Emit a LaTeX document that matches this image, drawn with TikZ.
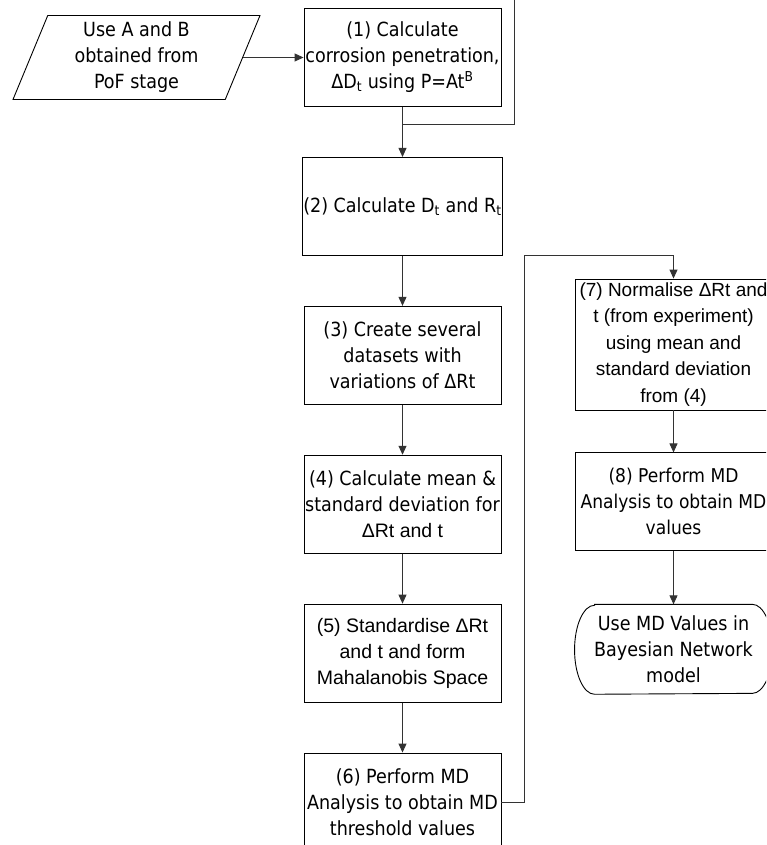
\documentclass[tikz,border=0pt]{standalone}
\usepackage{fontspec}
\setmainfont{DejaVu Sans Condensed}
\newfontfamily\arialfont{Liberation Sans}
\usetikzlibrary{arrows.meta,positioning,shapes.geometric}
\tikzset{>=Stealth}

\begin{document}
\begin{tikzpicture}[
    x=1pt, y=-1pt,
    process/.style={draw, line width=0.9pt, minimum width=197pt, minimum height=98pt, align=center, inner sep=1pt, font=\fontsize{19.5}{26}\selectfont},
    inputbox/.style={process, trapezium, trapezium left angle=64.5, trapezium right angle=115.5, trapezium stretches body, minimum width=247pt, minimum height=84pt},
    terminal/.style={process, draw=none, minimum height=89pt},
    wire/.style={line width=0.9pt, draw=black!80},
    link/.style={wire, -{Triangle[length=9pt,width=8pt]}},
    node distance=50pt
  ]
    \useasboundingbox (0,0) rectangle (766,845);
    \clip (0,0) rectangle (766,845);
    % left column
    \node[process] (calcpen) at (402.5,57.5) {(1) Calculate\\corrosion penetration,\\ΔD\textsubscript{t} using P=At\textsuperscript{B}};
    \node[inputbox] (pof) at (136.5,57.5) {Use A and B\\obtained from\\PoF stage};
    \node[process, below=of calcpen] (calcdr) {(2) Calculate D\textsubscript{t} and R\textsubscript{t}};
    \node[process, below=of calcdr] (datasets) {(3) Create several\\datasets with\\variations of ΔRt};
    \node[process, below=of datasets] (meanstd) {(4) Calculate mean \&\\standard deviation for\\{\arialfont ΔRt and t}};
    \node[process, below=of meanstd, font=\arialfont\fontsize{19.5}{26}\selectfont] (standard) {(5) Standardise ΔRt\\and t and form\\Mahalanobis Space};
    \node[process, below=of standard] (mdthresh) {(6) Perform MD\\Analysis to obtain MD\\threshold values};
    % right column
    \node[process, minimum height=131pt, font=\arialfont\fontsize{19}{26.5}\selectfont] (normalise) at (673.5,344.5) {(7) Normalise ΔRt and\\t (from experiment)\\using mean and\\standard deviation\\from (4)};
    \node[process, below=42pt of normalise, font=\fontsize{19}{26}\selectfont] (mdvalues) {(8) Perform MD\\Analysis to obtain MD\\values};
    \node[terminal, below=53pt of mdvalues] (bayes) {Use MD Values in\\Bayesian Network\\model};
    \draw[line width=0.9pt] ([xshift=20pt]bayes.north west) -- ([xshift=-20pt]bayes.north east)
      arc[start angle=90, end angle=-90, x radius=20pt, y radius=44.5pt]
      -- ([xshift=20pt]bayes.south west)
      arc[start angle=270, end angle=90, x radius=20pt, y radius=44.5pt] -- cycle;
    % connectors
    \coordinate (feed) at (514,-5);
    \coordinate (merge) at ([yshift=-18pt]calcpen.south);
    \draw[link] (pof) -- (calcpen);
    \draw[wire] (feed) |- (merge);
    \draw[link] (calcpen) -- (calcdr);
    \draw[link] (calcdr) -- (datasets);
    \draw[link] (datasets) -- (meanstd);
    \draw[link] (meanstd) -- (standard);
    \draw[link] (standard) -- (mdthresh);
    \draw[link] (mdthresh.east) -- ++(23,0) |- ([yshift=23pt]normalise.north) -- (normalise.north);
    \draw[link] (normalise) -- (mdvalues);
    \draw[link] (mdvalues) -- (bayes);
  \end{tikzpicture}
\end{document}
